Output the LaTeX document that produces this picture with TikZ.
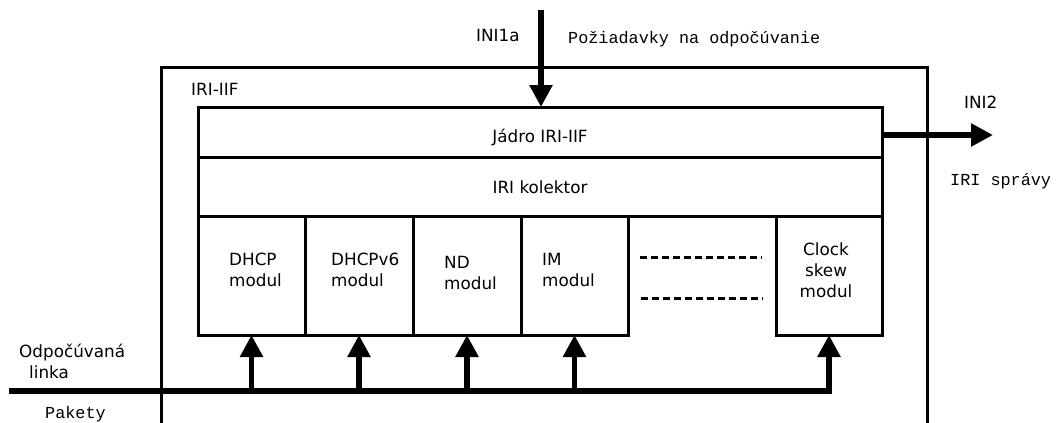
\documentclass[tikz,border=0pt]{standalone}
\usepackage{fontspec}
\setmainfont{DejaVu Sans}
\newfontfamily\monofont{Liberation Mono}
\usetikzlibrary{arrows.meta}

\begin{document}
\begin{tikzpicture}[x=1pt,y=-1pt,
  frame/.style={line width=3pt},
  cell/.style={draw, line width=3pt, anchor=north west, inner sep=0pt, outer sep=0pt},
  flow/.style={line width=5.5pt, -{Triangle[width=22pt,length=22pt]}},
  lbl/.style={font=\fontsize{16.8}{21}\selectfont, inner sep=0pt, anchor=base west},
  mono/.style={font=\monofont\fontsize{16.8}{20}\selectfont, inner sep=0pt, anchor=base west},
  modtxt/.style={lbl, align=left},
  dots/.style={line width=3pt, dash pattern=on 7pt off 4pt}
]
\useasboundingbox (0,0) rectangle (1063,423);

% outer IRI-IIF frame (open at the bottom)
\coordinate (fbl) at (161,423);
\coordinate (ftl) at (161,67);
\coordinate (ftr) at (927,67);
\coordinate (fbr) at (927,423);
\draw[frame] (fbl) -- (ftl) -- (ftr) -- (fbr);
\node[lbl] (iriiif) at (191,95) {IRI-IIF};

% core and collector
\node[cell, minimum width=684pt, minimum height=50pt] (core) at (198,107) {};
\node[cell, minimum width=684pt, minimum height=59pt] (coll) at (198,157) {};
\node[lbl, anchor=base] (coretxt) at (540,142) {Jádro IRI-IIF};
\node[lbl, anchor=base] (colltxt) at (540,193) {IRI kolektor};

% modules
\node[cell, minimum width=107pt, minimum height=119pt] (dhcp) at (198,216) {};
\node[cell, minimum width=108pt, minimum height=119pt] (dhcp6) at (305,216) {};
\node[cell, minimum width=108pt, minimum height=119pt] (nd) at (413,216) {};
\node[cell, minimum width=107pt, minimum height=119pt] (im) at (521,216) {};
\node[cell, minimum width=106pt, minimum height=119pt] (clock) at (776,216) {};

% module names (anchored at the baseline of the last line)
\node[modtxt] (dhcptxt) at (229,286) {DHCP\\modul};
\node[modtxt] (dhcp6txt) at (331,286) {DHCPv6\\modul};
\node[modtxt] (ndtxt) at (444,289) {ND\\modul};
\node[modtxt] (imtxt) at (542,286) {IM\\modul};
\node[lbl, anchor=base, align=center] (clocktxt) at (826,297) {Clock\\skew\\modul};

% further modules omitted
\coordinate (d1a) at (640,257);
\coordinate (d1b) at (762,257);
\coordinate (d2a) at (641,298);
\coordinate (d2b) at (763,298);
\draw[dots] (d1a) -- (d1b);
\draw[dots] (d2a) -- (d2b);

% INI1a: interception requests
\coordinate (reqsrc) at (541,10);
\draw[flow] (reqsrc) -- (reqsrc |- core.north);
\node[lbl] (ini1a) at (476,41) {INI1a};
\node[mono] (reqtxt) at (568,43) {Požiadavky na odpočúvanie};

% INI2: IRI messages
\coordinate (iriout) at (993,135);
\draw[flow] (core.east |- iriout) -- (iriout);
\node[lbl] (ini2) at (964,108) {INI2};
\node[mono] (iritxt) at (950,185) {IRI správy};

% intercepted link feeding the modules
\coordinate (tap) at (9,391);
\draw[flow] (tap) -| (clock.south);
\draw[flow] (dhcp.south |- tap) -- (dhcp.south);
\draw[flow] (dhcp6.south |- tap) -- (dhcp6.south);
\draw[flow] (nd.south |- tap) -- (nd.south);
\draw[flow] (im.south |- tap) -- (im.south);
\node[modtxt] (linktxt) at (19,378) {Odpočúvaná\\\hspace*{10pt}linka};
\node[mono] (pkttxt) at (45,418) {Pakety};
\end{tikzpicture}
\end{document}
